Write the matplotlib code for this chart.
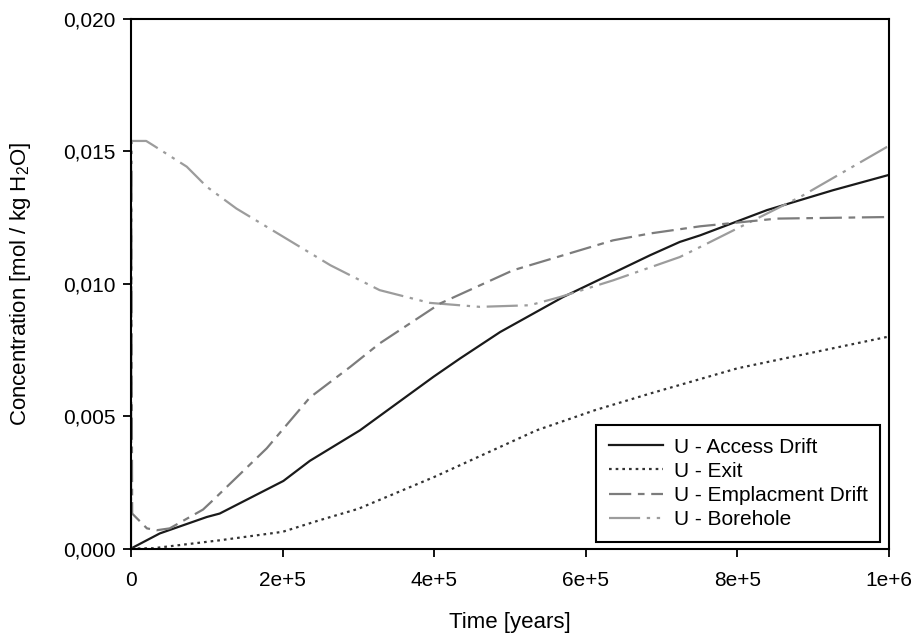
import matplotlib
matplotlib.use("Agg")
import matplotlib.pyplot as plt
from matplotlib.ticker import FixedLocator, FuncFormatter

plt.rcParams['font.family'] = ['Liberation Sans', 'DejaVu Sans']
plt.rcParams['mathtext.default'] = 'regular'

# time in years, concentration in mol / kg H2O
t_access = [0, 3.8e4, 1.0e5, 1.17e5, 2.01e5, 2.36e5, 3.02e5, 3.99e5, 4.34e5,
            4.87e5, 5.70e5, 6.85e5, 7.24e5, 7.51e5, 8.39e5, 9.26e5, 1.0e6]
c_access = [0.0, 0.00057, 0.00119, 0.00132, 0.00255, 0.00331, 0.00446, 0.00648,
            0.00717, 0.00817, 0.00949, 0.01107, 0.01157, 0.01182, 0.01277, 0.01352, 0.01410]

t_exit = [0, 2.9e4, 1.17e5, 2.0e5, 2.49e5, 3.0e5, 4.0e5, 5.35e5, 6.12e5,
          6.85e5, 8.0e5, 9.0e5, 1.0e6]
c_exit = [0.0, 0.00001, 0.00031, 0.00063, 0.00107, 0.00150, 0.00270, 0.00446,
          0.00522, 0.00585, 0.00680, 0.00740, 0.00800]

t_empl = [0, 1.5e3, 2.1e4, 3.4e4, 5.1e4, 9.5e4, 1.08e5, 1.79e5, 2.36e5, 2.89e5,
          3.28e5, 4.08e5, 5.04e5, 6.36e5, 6.85e5, 7.51e5, 8.52e5, 1.0e6]
c_empl = [0.0145, 0.00132, 0.00076, 0.00069, 0.00076, 0.00147, 0.00182, 0.00378,
          0.00570, 0.00685, 0.00774, 0.00925, 0.01050, 0.01163, 0.01189, 0.01216,
          0.01245, 0.01251]

t_bore = [0, 1.0e3, 2.0e4, 2.9e4, 7.35e4, 1.0e5, 1.39e5, 1.97e5, 2.63e5, 3.28e5,
          3.94e5, 4.60e5, 5.26e5, 5.66e5, 6.36e5, 7.24e5, 7.51e5, 8.83e5, 9.97e5, 1.0e6]
c_bore = [0.0, 0.01538, 0.01538, 0.01522, 0.01441, 0.01365, 0.01283, 0.01183,
          0.01069, 0.00975, 0.00927, 0.00912, 0.00918, 0.00949, 0.01012, 0.01100,
          0.01138, 0.01327, 0.01515, 0.01517]

x_ticks = [0, 2e5, 4e5, 6e5, 8e5, 1e6]
x_tick_labels = ['0', '2e+5', '4e+5', '6e+5', '8e+5', '1e+6']
y_ticks = [0.0, 0.005, 0.010, 0.015, 0.020]

fig = plt.figure(figsize=(9.15, 6.39), dpi=100)
ax = fig.add_axes([0.1432, 0.1416, 0.8284, 0.8294])

ax.plot(t_access, c_access, color='#1a1a1a', lw=1.6, label='U - Access Drift')
ax.plot(t_exit, c_exit, color='#333333', lw=1.6, linestyle=(0, (1.2, 1.8)),
        label='U - Exit')
ax.plot(t_bore, c_bore, color='#9c9c9c', lw=1.6,
        linestyle=(0, (14, 3, 1.5, 3, 1.5, 3)), label='U - Borehole')
ax.plot(t_empl, c_empl, color='#7c7c7c', lw=1.6,
        linestyle=(0, (10, 3, 3, 3)), label='U - Emplacment Drift')

ax.set_xlim(0, 1e6)
ax.set_ylim(0, 0.020)
ax.xaxis.set_major_locator(FixedLocator(x_ticks))
ax.set_xticklabels(x_tick_labels)
ax.yaxis.set_major_locator(FixedLocator(y_ticks))
ax.yaxis.set_major_formatter(FuncFormatter(lambda v, p: f'{v:.3f}'.replace('.', ',')))

for s in ax.spines.values():
    s.set_linewidth(1.5)
    s.set_color('black')
ax.tick_params(direction='out', length=6, width=1.3, labelsize=15, top=False, right=False)
ax.tick_params(axis='x', pad=10)
ax.tick_params(axis='y', pad=5)

ax.set_xlabel('Time [years]', fontsize=16, va='center')
ax.set_ylabel('Concentration [mol / kg H$_2$O]', fontsize=16, va='center')
ax.xaxis.set_label_coords(0.5, -0.139)
ax.yaxis.set_label_coords(-0.146, 0.5)

handles, labels = ax.get_legend_handles_labels()
order = [0, 1, 3, 2]
leg = ax.legend([handles[i] for i in order], [labels[i] for i in order],
                loc='lower right', bbox_to_anchor=(0.988, 0.013),
                fontsize=15, frameon=True, fancybox=False, framealpha=1,
                edgecolor='black', handlelength=2.6, handletextpad=0.5,
                borderpad=0.6, labelspacing=0.25, borderaxespad=0)
leg.get_frame().set_linewidth(1.5)

fig.savefig('out.png', dpi=100)
